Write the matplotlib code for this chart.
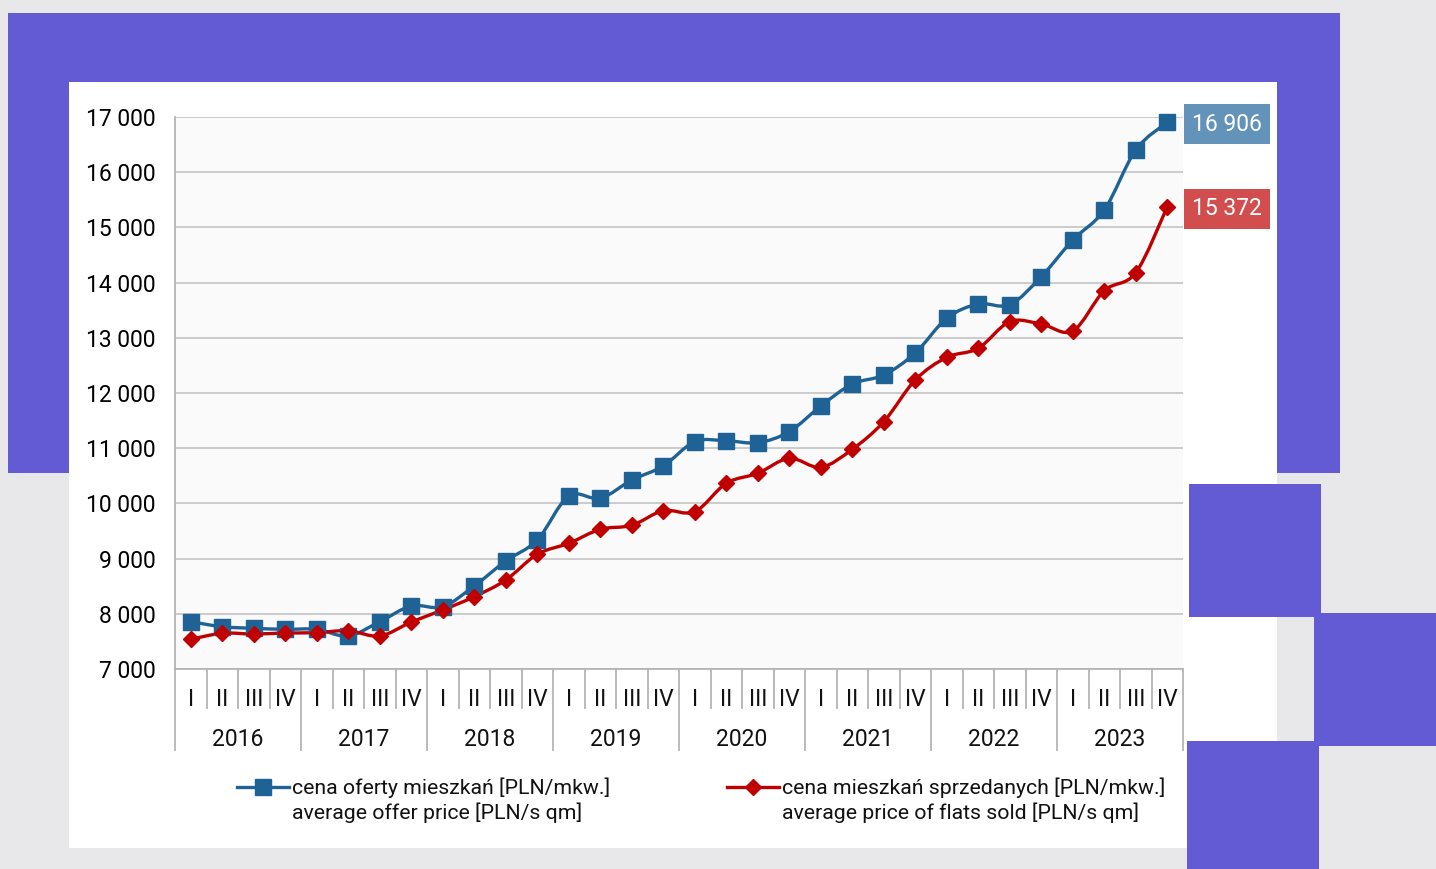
import numpy as np
import matplotlib.pyplot as plt
from matplotlib.path import Path
from matplotlib.patches import PathPatch, Rectangle
from matplotlib.lines import Line2D
from matplotlib.transforms import blended_transform_factory

plt.rcParams['font.family'] = ['Roboto', 'DejaVu Sans']

years = ['2016', '2017', '2018', '2019', '2020', '2021', '2022', '2023']
quarters = ['I', 'II', 'III', 'IV']

# average offer price [PLN/sq m]
offer = [7857, 7766, 7737, 7719, 7719, 7598, 7857, 8141,
         8129, 8504, 8957, 9337, 10134, 10092, 10424, 10677,
         11118, 11136, 11100, 11299, 11764, 12163, 12326, 12725,
         13353, 13612, 13600, 14107, 14772, 15315, 16402, 16906]
# average price of flats sold [PLN/sq m]
sold = [7538, 7647, 7634, 7652, 7658, 7694, 7598, 7851,
        8069, 8310, 8612, 9078, 9277, 9531, 9603, 9868,
        9850, 10364, 10545, 10817, 10654, 10980, 11480, 12236,
        12646, 12810, 13292, 13250, 13123, 13853, 14180, 15372]

offer_label = ['cena oferty mieszkań [PLN/mkw.]', 'average offer price [PLN/s qm]']
sold_label = ['cena mieszkań sprzedanych [PLN/mkw.]', 'average price of flats sold [PLN/s qm]']

BLUE = '#1f6295'
RED = '#c00000'
PURPLE = '#625bd3'

W, H = 1436, 869
fig = plt.figure(figsize=(W / 100, H / 100), dpi=100)
fig.patch.set_facecolor('#e8e8eb')


def box(x0, y0, x1, y1, color, z=0):
    # pixel coords, origin top-left
    fig.patches.append(Rectangle((x0 / W, 1 - y1 / H), (x1 - x0) / W, (y1 - y0) / H,
                                 transform=fig.transFigure, fc=color, ec='none', zorder=z))


box(8, 13, 1340, 473, PURPLE)
box(69, 82, 1277, 848, 'white', 1)
box(1189, 484, 1321, 617, PURPLE, 2)
box(1314, 613, 1436, 746, PURPLE, 2)
box(1187, 741, 1319, 869, PURPLE, 2)

ax = fig.add_axes([175 / W, 1 - 669 / H, 1008 / W, 552 / H])
ax.set_zorder(3)
ax.set_facecolor('#fafafa')
ax.set_xlim(0, 32)
ax.set_ylim(7000, 17000)
yt = np.arange(7000, 17001, 1000)
ax.set_yticks(yt)
ax.set_yticklabels([f'{v:,}'.replace(',', ' ') for v in yt])
ax.tick_params(axis='y', length=0, pad=14, labelsize=16.5)
ax.set_xticks([])
ax.grid(axis='y', color='#c8c8c8', lw=1.3)
ax.set_axisbelow(True)
for s in ['top', 'right']:
    ax.spines[s].set_visible(False)
for s in ['left', 'bottom']:
    ax.spines[s].set_color('#b4b4b4')
    ax.spines[s].set_linewidth(1.3)

# category axis (quarters / years)
tr = blended_transform_factory(ax.transData, fig.transFigure)
for i in range(33):
    ybot = 750 if i % 4 == 0 else 708
    ax.add_line(Line2D([i, i], [1 - 669 / H, 1 - ybot / H], transform=tr,
                       color='#b4b4b4', lw=1.3, clip_on=False))
for k, yr in enumerate(years):
    for j, q in enumerate(quarters):
        ax.text(4 * k + j + 0.5, 1 - 699 / H, q, transform=tr, ha='center', va='center',
                fontsize=16.5, color='#111111')
    ax.text(4 * k + 2, 1 - 740 / H, yr, transform=tr, ha='center', va='center',
            fontsize=16.5, color='#111111')


def smooth(xs, ys):
    pts = np.column_stack([xs, ys]).astype(float)
    n = len(pts)
    verts = [pts[0]]
    codes = [Path.MOVETO]
    for i in range(n - 1):
        p0 = pts[i - 1] if i > 0 else pts[i]
        p1, p2 = pts[i], pts[i + 1]
        p3 = pts[i + 2] if i + 2 < n else p2
        verts += [p1 + (p2 - p0) / 6, p2 - (p3 - p1) / 6, p2]
        codes += [Path.CURVE4] * 3
    return Path(verts, codes)


x = np.arange(len(offer)) + 0.5
ax.add_patch(PathPatch(smooth(x, offer), fc='none', ec=BLUE, lw=2.4, zorder=3))
ax.add_patch(PathPatch(smooth(x, sold), fc='none', ec=RED, lw=2.4, zorder=3))
ax.plot(x, offer, ls='none', marker='s', ms=11, color=BLUE, zorder=4, clip_on=False)
ax.plot(x, sold, ls='none', marker='D', ms=8.5, color=RED, zorder=4, clip_on=False)

# end value labels
for vals, col in [(offer, '#6393b8'), (sold, '#d24d4d')]:
    ax.annotate(f'{vals[-1]:,}'.replace(',', ' '), xy=(32, vals[-1]), xytext=(9, -2),
                textcoords='offset pixels', ha='left', va='center', fontsize=16.5, color='white',
                bbox=dict(boxstyle='square,pad=0.36', fc=col, ec='none'), annotation_clip=False)

# legend
for (x0, x1, tx), col, mk, ms, lab in [((237, 289, 292), BLUE, 's', 11, offer_label),
                                       ((727, 779, 782), RED, 'D', 8.5, sold_label)]:
    fig.add_artist(Line2D([x0 / W, x1 / W], [1 - 787 / H] * 2, color=col, lw=2.4, zorder=5))
    fig.add_artist(Line2D([(x0 + x1) / 2 / W], [1 - 787 / H], color=col, marker=mk, ms=ms, zorder=5))
    fig.text(tx / W, 1 - 788 / H, lab[0], ha='left', va='center', fontsize=15.3, color='#111111', zorder=5)
    fig.text(tx / W, 1 - 813 / H, lab[1], ha='left', va='center', fontsize=15.3, color='#111111', zorder=5)

fig.savefig('out.png', dpi=100, facecolor=fig.get_facecolor())
